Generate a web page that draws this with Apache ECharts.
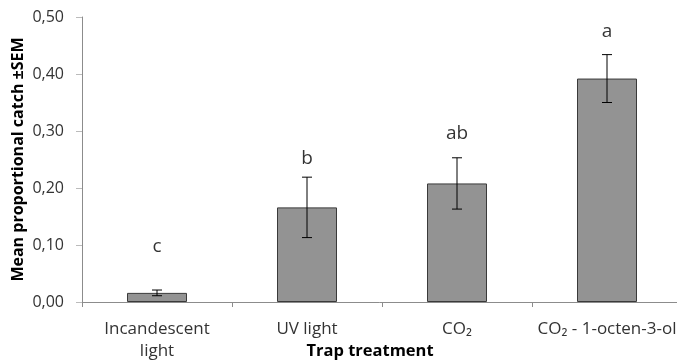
<!DOCTYPE html>
<html><head><meta charset="utf-8">
<script src="https://cdn.jsdelivr.net/npm/echarts@6/dist/echarts.min.js"></script>
<style>html,body{margin:0;padding:0;background:#fff}#c{width:677px;height:362px}</style>
</head><body><div id="c"></div>
<script>
var categories = ['Incandescent\nlight', 'UV light', 'CO\u2082', 'CO\u2082 - 1-octen-3-ol'];
var means = [0.016, 0.166, 0.208, 0.392];
var sem = [0.005, 0.053, 0.045, 0.042];
var letters = ['c', 'b', 'ab', 'a'];
var letterY = [0.0965, 0.251, 0.2947, 0.4737];
var yTicks = [0, 0.1, 0.2, 0.3, 0.4, 0.5];

var FONT = '"Open Sans", "Noto Sans", sans-serif';
var chart = echarts.init(document.getElementById('c'));
var errData = means.map(function (m, i) { return [i, m - sem[i], m + sem[i]]; });
var letterData = letters.map(function (l, i) { return { value: [i, letterY[i]], name: l }; });

chart.setOption({
  animation: false,
  grid: { left: 82, right: -5, top: 17, bottom: 60, containLabel: false, outerBoundsMode: 'none' },
  xAxis: {
    type: 'category', data: categories,
    name: 'Trap treatment', nameLocation: 'middle', nameGap: 41, nameMoveOverlap: false,
    nameTextStyle: { fontFamily: FONT, fontWeight: 'bold', fontSize: 16.5, color: '#000', verticalAlign: 'top', padding: [0, 24, 0, 0] },
    axisLine: { lineStyle: { color: '#8c8c8c', width: 1 } },
    axisTick: { show: true, length: 5, alignWithLabel: false, lineStyle: { color: '#8c8c8c' } },
    axisLabel: { fontFamily: FONT, fontSize: 17, color: '#333', margin: 16, lineHeight: 22, interval: 0 }
  },
  yAxis: {
    type: 'value', min: 0, max: 0.5, interval: 0.1,
    name: 'Mean proportional catch \u00b1SEM', nameLocation: 'middle', nameGap: 56, nameMoveOverlap: false,
    nameTextStyle: { fontFamily: FONT, fontWeight: 'bold', fontSize: 16, color: '#000' },
    axisLine: { show: true, lineStyle: { color: '#8c8c8c', width: 1 } },
    axisTick: { show: true, length: 6, lineStyle: { color: '#bbbbbb' } },
    splitLine: { show: false },
    axisLabel: {
      fontFamily: FONT, fontSize: 16, color: '#333', margin: 18,
      formatter: function (v) { return v.toFixed(2).replace('.', ','); }
    }
  },
  series: [
    {
      type: 'bar', data: means, barWidth: '40%',
      itemStyle: { color: '#939393', borderColor: '#3a3a3a', borderWidth: 1 }
    },
    {
      type: 'custom', data: errData, z: 5,
      renderItem: function (params, api) {
        var x = api.value(0);
        var lo = api.coord([x, api.value(1)]);
        var hi = api.coord([x, api.value(2)]);
        var hw = 5;
        var st = { stroke: '#000', lineWidth: 1 };
        return {
          type: 'group', children: [
            { type: 'line', shape: { x1: hi[0], y1: hi[1], x2: lo[0], y2: lo[1] }, style: st },
            { type: 'line', shape: { x1: hi[0] - hw, y1: hi[1], x2: hi[0] + hw, y2: hi[1] }, style: st },
            { type: 'line', shape: { x1: lo[0] - hw, y1: lo[1], x2: lo[0] + hw, y2: lo[1] }, style: st }
          ]
        };
      }
    },
    {
      type: 'scatter', data: letterData, symbolSize: 1, itemStyle: { color: 'rgba(0,0,0,0)' },
      label: {
        show: true, position: 'inside', formatter: function (p) { return p.name; },
        fontFamily: FONT, fontSize: 19, color: '#000'
      }
    }
  ]
});
</script></body></html>
